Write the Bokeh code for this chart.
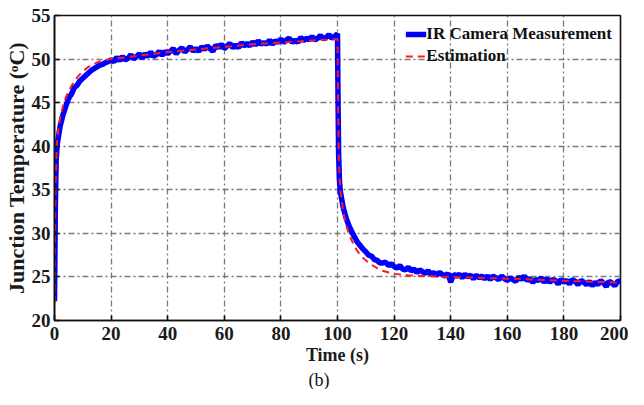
from bokeh.plotting import figure
from bokeh.models import Range1d, FixedTicker, Legend, LegendItem, Title
from bokeh.embed import file_html
from bokeh.resources import INLINE

# ---- data ----
meas_t = [0, 0.3, 0.6, 1, 2, 3, 4, 5, 6, 7, 8, 9, 10, 11, 12, 13, 14, 15, 16, 17, 18, 19, 20,
          21, 22, 23, 24, 25, 26, 27, 28, 29, 30,
          31, 32, 33, 34, 35, 36, 37, 38, 39, 40,
          41, 42, 43, 44, 45, 46, 47, 48, 49, 50,
          51, 52, 53, 54, 55, 56, 57, 58, 59, 60,
          61, 62, 63, 64, 65, 66, 67, 68, 69, 70,
          71, 72, 73, 74, 75, 76, 77, 78, 79, 80,
          81, 82, 83, 84, 85, 86, 87, 88, 89, 90,
          91, 92, 93, 94, 95, 96, 97, 98, 99, 100,
          100.2, 100.4, 100.7, 101, 102, 103, 104, 105, 106, 107, 108, 109, 110,
          111, 112, 113, 114, 115, 116, 117, 118, 119, 120,
          121, 122, 123, 124, 125, 126, 127, 128, 129, 130,
          131, 132, 133, 134, 135, 136, 137, 138, 139, 140,
          141, 142, 143, 144, 145, 146, 147, 148, 149, 150,
          151, 152, 153, 154, 155, 156, 157, 158, 159, 160,
          161, 162, 163, 164, 165, 166, 167, 168, 169, 170,
          171, 172, 173, 174, 175, 176, 177, 178, 179, 180,
          181, 182, 183, 184, 185, 186, 187, 188, 189, 190,
          191, 192, 193, 194, 195, 196, 197, 198, 199, 200]
meas_temp = [22.2, 33.0, 38.5, 40.3, 42.3, 43.6, 44.6, 45.5, 46.0, 46.7, 47.0, 47.5, 47.8, 48.1, 48.4, 48.7, 48.9, 49.1, 49.3, 49.4, 49.6, 49.7, 49.9,
             49.7, 50.2, 49.8, 50.3, 49.9, 50.1, 50.5, 50.0, 50.3, 50.6,
             50.1, 50.6, 50.3, 50.8, 50.3, 50.5, 50.9, 50.4, 50.9, 50.6,
             50.9, 51.2, 50.6, 51.0, 51.3, 50.8, 51.1, 51.4, 50.9, 51.2,
             50.9, 51.4, 51.1, 51.5, 51.2, 50.9, 51.6, 51.3, 51.7, 51.2,
             51.5, 51.8, 51.3, 51.6, 51.3, 51.9, 51.5, 51.8, 51.5, 52.0,
             51.6, 52.1, 51.7, 51.9, 51.7, 52.2, 51.7, 52.1, 51.9, 52.3,
             51.9, 52.2, 52.4, 51.9, 52.2, 51.9, 52.5, 52.1, 52.4, 52.2,
             52.6, 52.2, 52.4, 52.7, 52.3, 52.5, 52.8, 52.4, 52.6, 52.9,
             45.0, 39.0, 36.0, 34.8, 33.0, 31.8, 30.9, 30.2, 29.6, 29.0, 28.6, 28.2, 27.9,
             27.5, 27.4, 27.0, 26.9, 26.6, 26.6, 26.7, 26.3, 26.5, 26.2,
             26.0, 26.3, 25.9, 25.8, 26.1, 25.7, 25.9, 25.5, 25.8, 25.6,
             25.4, 25.7, 25.3, 25.5, 25.2, 25.5, 25.3, 25.1, 25.4, 24.4,
             25.3, 25.1, 25.3, 24.9, 25.3, 25.0, 25.2, 24.8, 25.2, 24.9,
             25.1, 24.8, 25.1, 24.7, 25.1, 24.9, 24.7, 25.1, 24.8, 24.6,
             24.9, 24.7, 24.5, 25.0, 24.7, 25.1, 24.6, 24.8, 24.4, 24.7,
             24.6, 24.9, 24.4, 24.8, 24.4, 24.7, 24.6, 24.2, 24.7, 24.4,
             24.6, 24.2, 24.7, 24.5, 24.1, 24.6, 24.4, 24.1, 24.5, 24.0,
             24.4, 24.1, 24.6, 24.3, 23.9, 24.5, 24.3, 24.0, 24.5, 24.5]

est_t = [0, 0.2, 0.4, 0.7, 1, 1.5, 2, 3, 4, 5, 6, 8, 10, 12, 15, 18, 20, 25, 30, 40, 50, 60, 70, 80, 90, 100,
         100.2, 100.5, 101, 102, 103, 104, 105, 106, 108, 110, 112, 114, 116, 118, 120, 125, 130,
         140, 150, 160, 170, 180, 190, 200]
est_temp = [22.0, 30.0, 36.0, 39.5, 41.0, 42.3, 43.3, 44.6, 45.6, 46.3, 46.9, 47.9, 48.6, 49.1, 49.6, 49.9, 50.0, 50.2, 50.4, 50.8, 51.1, 51.4, 51.7, 51.9, 52.1, 52.3,
            45.0, 38.0, 35.0, 32.5, 31.0, 30.0, 29.2, 28.5, 27.5, 26.9, 26.4, 26.0, 25.7, 25.5, 25.35, 25.2, 25.1,
            25.0, 24.9, 24.8, 24.7, 24.55, 24.45, 24.35]

x_ticks = [0, 20, 40, 60, 80, 100, 120, 140, 160, 180, 200]
y_ticks = [20, 25, 30, 35, 40, 45, 50, 55]

FONT = "Liberation Serif"

p = figure(width=628, height=389, x_range=Range1d(0, 200), y_range=Range1d(20, 55),
           output_backend="svg", toolbar_location=None,
           min_border_left=54, min_border_right=8, min_border_top=15, min_border_bottom=66)

p.border_fill_color = "white"
p.outline_line_color = "#111111"
p.outline_line_width = 1.6
p.background_fill_color = "white"

r1 = p.line(meas_t, meas_temp, line_color="#0000ff", line_width=5.5)
r2 = p.line(est_t, est_temp, line_color="#ff1a1a", line_width=2, line_dash="7 5")

for ax, tks in ((p.xaxis[0], x_ticks), (p.yaxis[0], y_ticks)):
    ax.ticker = FixedTicker(ticks=tks)
    ax.major_tick_in = 5
    ax.major_tick_out = 0
    ax.minor_tick_line_color = None
    ax.axis_line_color = "#111111"
    ax.axis_line_width = 1.6
    ax.major_tick_line_color = "#111111"
    ax.major_tick_line_width = 1.6
    ax.major_label_text_font = FONT
    ax.major_label_text_font_style = "bold"
    ax.major_label_text_font_size = "19px"
    ax.major_label_text_color = "#1a1a1a"
    ax.axis_label_text_font = FONT
    ax.axis_label_text_font_style = "bold"
    ax.axis_label_text_color = "#1a1a1a"

p.xaxis[0].major_label_standoff = 6
p.xaxis[0].axis_label = "Time (s)"
p.xaxis[0].axis_label_text_font_size = "18px"
p.xaxis[0].axis_label_standoff = 2
p.yaxis[0].major_label_standoff = 4
p.yaxis[0].axis_label = "Junction Temperature (\u1d52C)"
p.yaxis[0].axis_label_text_font_size = "22px"
p.yaxis[0].axis_label_standoff = 0

for g in (p.xgrid[0], p.ygrid[0]):
    g.grid_line_color = "#7a7a7a"
    g.grid_line_dash = "6 3 2 3"
    g.grid_line_width = 1.3
p.xgrid[0].ticker = FixedTicker(ticks=x_ticks)
p.ygrid[0].ticker = FixedTicker(ticks=y_ticks)

legend = Legend(items=[LegendItem(label="IR Camera Measurement", renderers=[r1]),
                       LegendItem(label="Estimation", renderers=[r2])],
                location="top_right", background_fill_alpha=0, border_line_color=None,
                label_text_font=FONT, label_text_font_style="bold", label_text_font_size="17px",
                label_text_color="#111111",
                glyph_width=21, glyph_height=22, label_height=22, spacing=0,
                label_standoff=0, padding=0, margin=8)
p.add_layout(legend)

sub = Title(text="(b)", align="left", offset=254, text_font=FONT, text_font_style="normal",
            text_font_size="18px", text_color="#111111", standoff=0)
p.add_layout(sub, "below")

open("out.html", "w").write(file_html(p, INLINE))
